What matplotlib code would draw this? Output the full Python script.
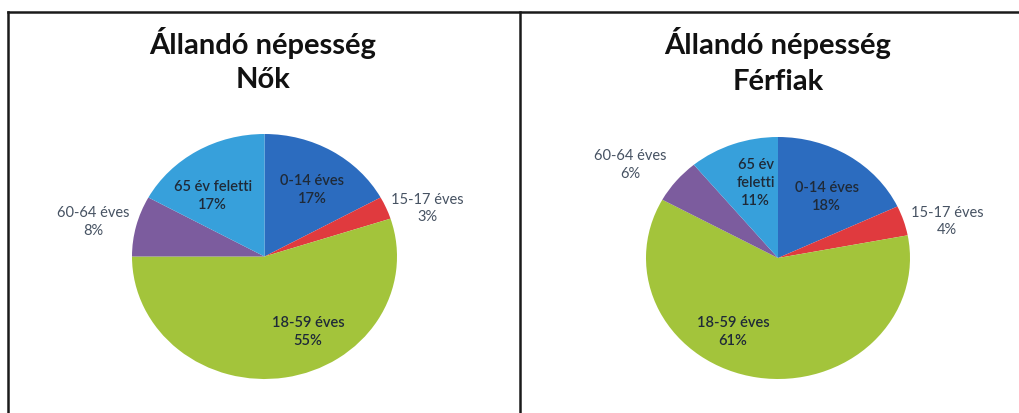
import matplotlib
matplotlib.use("Agg")
import matplotlib.pyplot as plt
from matplotlib.lines import Line2D

# data
categories = ["0-14 éves", "15-17 éves", "18-59 éves", "60-64 éves", "65 év feletti"]
nok_values = [17, 3, 55, 8, 17]
ferfiak_values = [18, 4, 61, 6, 11]
title_top = "Állandó népesség"
subtitles = ["Nők", "Férfiak"]

colors = ["#2c6cbf", "#e03a3e", "#a3c43b", "#7c5c9e", "#37a0db"]

W, H = 1019, 414
plt.rcParams["font.family"] = ["Lato", "DejaVu Sans"]

fig = plt.figure(figsize=(W / 100, H / 100), dpi=100)
fig.patch.set_facecolor("white")


def px_axes(cx, cy, rx, ry):
    # axes so that a unit-radius pie spans rx by ry pixels around (cx, cy)
    w, h = 2.5 * rx, 2.5 * ry
    return fig.add_axes([(cx - w / 2) / W, (H - cy - h / 2) / H, w / W, h / H])


# label text and place (in pie radius units), per panel
label_text_nok = ["0-14 éves\n17%", "15-17 éves\n3%", "18-59 éves\n55%",
                  "60-64 éves\n8%", "65 év feletti\n17%"]
label_text_ferfiak = ["0-14 éves\n18%", "15-17 éves\n4%", "18-59 éves\n61%",
                      "60-64 éves\n6%", "65 év\nfeletti\n11%"]
label_pos_nok = [(0.36, 0.55), (1.23, 0.40), (0.33, -0.61), (-1.29, 0.29), (-0.39, 0.50)]
label_pos_ferfiak = [(0.37, 0.51), (1.28, 0.31), (-0.34, -0.60), (-1.12, 0.78), (-0.17, 0.63)]
inside = [True, False, True, False, True]

panels = [
    (nok_values, label_text_nok, label_pos_nok, (264.5, 257.5, 132.5, 122.5), 263),
    (ferfiak_values, label_text_ferfiak, label_pos_ferfiak, (778, 259, 132, 121), 778),
]

for i, (vals, texts, pos, geom, tx) in enumerate(panels):
    ax = px_axes(*geom)
    ax.pie(vals, colors=colors, startangle=90, counterclock=False,
           wedgeprops=dict(linewidth=0))
    ax.set_aspect("auto")
    ax.set_xlim(-1.25, 1.25)
    ax.set_ylim(-1.25, 1.25)
    ax.axis("off")
    for t, (x, y), ins in zip(texts, pos, inside):
        ax.text(x, y, t, ha="center", va="center", fontsize=10.5,
                color="#1f2a38" if ins else "#465262",
                fontweight="semibold" if ins else "normal", linespacing=1.35)
    fig.text(tx / W, 1 - 54 / H, title_top, ha="center", va="baseline",
             fontsize=21, fontweight="bold", color="#111111")
    fig.text(tx / W, 1 - (88 + i * 2) / H, subtitles[i], ha="center", va="baseline",
             fontsize=21, fontweight="bold", color="#111111")

# panel frame lines
for xs, ys in [((8, 1019), (13, 13)), ((8, 8), (13, 414)), ((520, 520), (13, 414))]:
    fig.add_artist(Line2D([x / W for x in xs], [1 - y / H for y in ys],
                          transform=fig.transFigure, color="#1a1a1a", linewidth=1.8))

fig.savefig("out.png", dpi=100)
